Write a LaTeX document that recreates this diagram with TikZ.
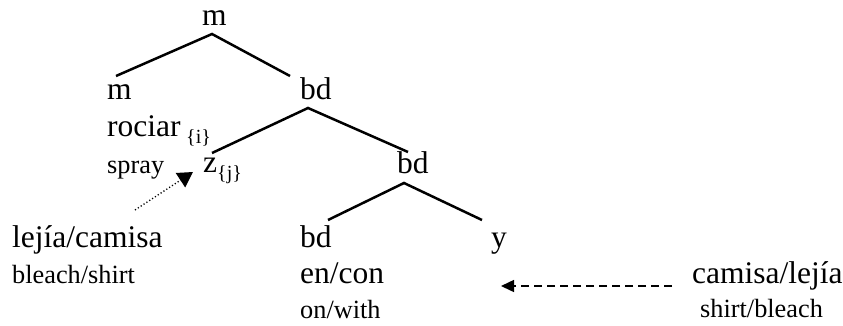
\documentclass[tikz,border=0pt]{standalone}
\usepackage{fontspec}
\setmainfont{Liberation Serif}
\usetikzlibrary{arrows.meta}
\begin{document}
\begin{tikzpicture}[x=1pt,y=-1pt,
  big/.style={anchor=base west,inner sep=0pt,font=\fontsize{31.5}{36}\selectfont},
  small/.style={anchor=base west,inner sep=0pt,font=\fontsize{26.3}{30}\selectfont},
  sub/.style={anchor=base west,inner sep=0pt,font=\fontsize{20}{24}\selectfont},
  branch/.style={line width=2.5pt},
  dotarrow/.style={dash pattern=on 1.2pt off 2.2pt,line width=1.3pt,-{Triangle[length=15pt,width=17pt]}},
  dasharrow/.style={dash pattern=on 8pt off 5pt,line width=1.5pt,-{Triangle[length=13pt,width=12pt]}}]
\useasboundingbox (0,0) rectangle (843,325);
% nodes
\node[big] (m0) at (202,25) {m};
\node[big] (m1) at (107,99) {m};
\node[big] (bd1) at (300,99) {bd};
\node[big] (rociar) at (107,136) {rociar};
\node[sub] (ri) at (186,143) {\{i\}};
\node[small] (spray) at (107,173) {spray};
\node[big] (z) at (203,172) {z};
\node[sub] (zj) at (217,179) {\{j\}};
\node[big] (bd2) at (397,173) {bd};
\node[big] (lc) at (12,247) {lejía/camisa};
\node[small] (bs) at (12,283) {bleach/shirt};
\node[big] (bd3) at (300,247) {bd};
\node[big] (y) at (491,247) {y};
\node[big] (encon) at (300,283) {en/con};
\node[small] (onwith) at (300,318) {on/with};
\node[big] (cl) at (692,283) {camisa/lejía};
\node[small] (sb) at (700,317) {shirt/bleach};
% branch points
\coordinate (m0b) at (212,34);
\coordinate (m1t) at (116,76);
\coordinate (bd1t) at (290,76);
\coordinate (bd1b) at (308,108);
\coordinate (zt) at (212,153);
\coordinate (bd2t) at (408,152);
\coordinate (bd2b) at (404,183);
\coordinate (bd3t) at (328,220);
\coordinate (yt) at (482,220);
\coordinate (dotstart) at (135,210);
\coordinate (dottip) at (193,172);
\coordinate (dashstart) at (672,286);
\coordinate (dashtip) at (501,286);
% connectors
\draw[branch] (m1t) -- (m0b) -- (bd1t);
\draw[branch] (zt) -- (bd1b) -- (bd2t);
\draw[branch] (bd3t) -- (bd2b) -- (yt);
\draw[dotarrow] (dotstart) -- (dottip);
\draw[dasharrow] (dashstart) -- (dashtip);
\end{tikzpicture}
\end{document}
